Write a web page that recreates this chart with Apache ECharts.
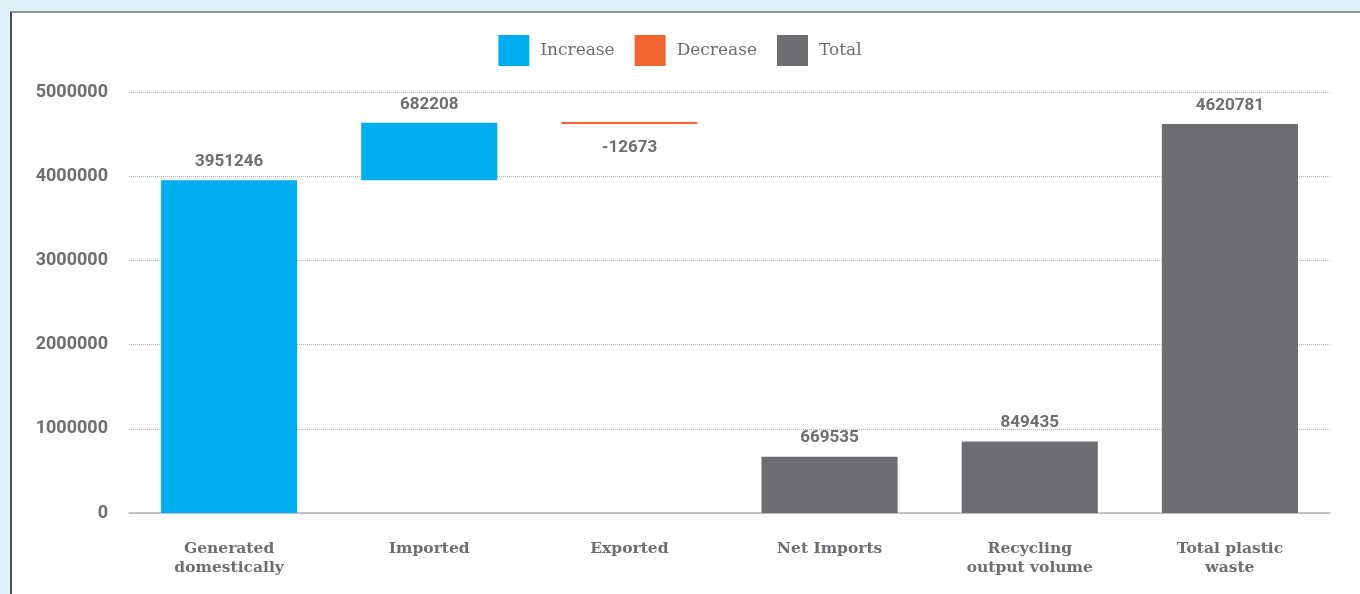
<!DOCTYPE html>
<html lang="en">
<style>
  html, body {
    margin: 0;
    padding: 0;
    background: #e1f3fa;
    overflow: hidden;
  }
  #panel {
    position: absolute;
    left: 10px;
    top: 11px;
    width: 1400px;
    height: 700px;
    background: #fff;
    border-top: 2px solid #8d949b;
    border-left: 2px solid #4a4d52;
  }
  #container {
    position: absolute;
    left: 0;
    top: 0;
    width: 1360px;
    height: 594px;
  }
</style>

<head>
  <meta charset="UTF-8">
  <script src="https://cdn.jsdelivr.net/npm/echarts@6/dist/echarts.min.js"></script>
</head>

<body>
  <div id="panel"></div>
  <div id="container"></div>
  <script>
    var categories = ['Generated\ndomestically', 'Imported', 'Exported', 'Net Imports', 'Recycling\noutput volume', 'Total plastic\nwaste'];
    var increaseValues = [3951246, 682208, '-', '-', '-', '-'];
    var decreaseValues = ['-', '-', 12673, '-', '-', '-'];
    var totalValues = ['-', '-', '-', 669535, 849435, 4620781];
    var yTicks = [0, 1000000, 2000000, 3000000, 4000000, 5000000];

    // invisible base for the floating bars
    var baseValues = [];
    var running = 0;
    for (var i = 0; i < categories.length; i++) {
      if (increaseValues[i] !== '-') {
        baseValues.push(running);
        running += increaseValues[i];
      } else if (decreaseValues[i] !== '-') {
        running -= decreaseValues[i];
        baseValues.push(running);
      } else {
        baseValues.push(0);
      }
    }

    var grey = '#6d6e71';
    var slab = '"Roboto Slab", "DejaVu Serif", serif';
    var numLabel = {
      show: true,
      position: 'top',
      distance: 10,
      color: grey,
      fontFamily: 'Roboto',
      fontWeight: 'bold',
      fontSize: 17
    };

    var myChart = echarts.init(document.getElementById('container'));
    var option = {
      animation: false,
      legend: {
        data: ['Increase', 'Decrease', 'Total'],
        top: 30,
        left: 'center',
        itemWidth: 31,
        itemHeight: 31,
        itemGap: 20,
        icon: 'rect',
        textStyle: {
          color: grey,
          fontFamily: slab,
          fontSize: 17,
          padding: [0, 0, 0, 6]
        }
      },
      grid: {
        left: 129,
        right: 30,
        top: 92,
        bottom: 81
      },
      xAxis: {
        type: 'category',
        data: categories,
        axisTick: { show: false },
        axisLine: { lineStyle: { color: '#b3b4ba', width: 1.5 } },
        axisLabel: {
          margin: 26,
          interval: 0,
          color: grey,
          fontFamily: slab,
          fontWeight: 'bold',
          fontSize: 15.5,
          lineHeight: 19
        }
      },
      yAxis: {
        type: 'value',
        min: yTicks[0],
        max: yTicks[yTicks.length - 1],
        interval: yTicks[1] - yTicks[0],
        axisLine: { show: false },
        axisTick: { show: false },
        splitLine: { lineStyle: { color: '#b8b8b8', type: 'dotted' } },
        axisLabel: {
          margin: 21,
          color: grey,
          fontFamily: 'Roboto',
          fontWeight: 'bold',
          fontSize: 18,
          formatter: function (v) { return String(v); }
        }
      },
      series: [
        {
          name: 'base',
          type: 'bar',
          stack: 'w',
          barWidth: '68%',
          silent: true,
          itemStyle: { color: 'transparent' },
          data: baseValues
        },
        {
          name: 'Increase',
          type: 'bar',
          stack: 'w',
          itemStyle: { color: '#00aeef' },
          label: numLabel,
          data: increaseValues
        },
        {
          name: 'Decrease',
          type: 'bar',
          stack: 'w',
          barMinHeight: 2,
          itemStyle: { color: '#f26531' },
          label: Object.assign({}, numLabel, {
            position: 'bottom',
            distance: 15,
            formatter: function (p) { return '-' + p.value; }
          }),
          data: decreaseValues
        },
        {
          name: 'Total',
          type: 'bar',
          stack: 'w',
          itemStyle: { color: grey },
          label: numLabel,
          data: totalValues
        }
      ]
    };
    myChart.setOption(option);
  </script>
</body>

</html>
